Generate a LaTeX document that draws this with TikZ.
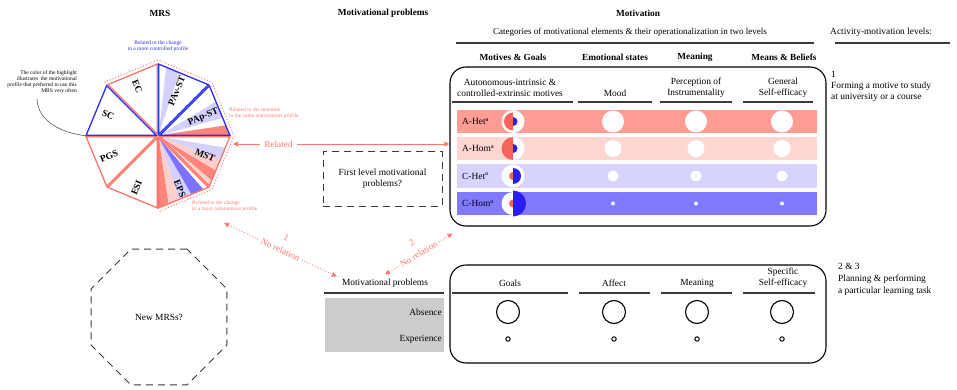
\documentclass[tikz,border=0pt]{standalone}
\usepackage{fontspec}
\setmainfont{Liberation Serif}
\usetikzlibrary{arrows.meta,calc,shapes.geometric}

\definecolor{linkred}{HTML}{FF7B70}
\definecolor{mrsblue}{HTML}{2E2EF0}
\definecolor{mrsred}{HTML}{FF7468}
\definecolor{hlred}{HTML}{FF857A}
\definecolor{hlpink}{HTML}{FFD0CB}
\definecolor{hllav}{HTML}{D4D0FF}
\definecolor{hlblue}{HTML}{7B73FF}
\definecolor{rowAhet}{HTML}{FF9C94}
\definecolor{rowAhom}{HTML}{FFD6D2}
\definecolor{rowChet}{HTML}{D6D3FF}
\definecolor{rowChom}{HTML}{817AFF}
\definecolor{glyphred}{HTML}{F8645A}
\definecolor{glyphblue}{HTML}{2A1EF0}
\definecolor{rulegray}{HTML}{3A3A3A}
\definecolor{boxgray}{HTML}{CCCCCC}

% a coloured fan inside one MRS sector: lower angle, start and end fraction of the rim, colour
\newcommand{\mrsfan}[4]{%
  \fill[#4] (0,0) -- ($({#1}:70)!#2!({#1+45}:70)$) -- ($({#1}:70)!#3!({#1+45}:70)$) -- cycle;}
% outline of one MRS sector: lower angle, colour
\newcommand{\mrsrim}[2]{%
  \draw[#2, line width=1.3pt, line join=miter] (0,0) -- ({#1}:70) -- ({#1+45}:70) -- cycle;}
% profile glyph: centre, white disc radius, red half radius, blue half radius
\newcommand{\profileglyph}[4]{%
  \fill[white] (#1) circle[radius=#2];
  \fill[glyphred] (#1) ++(0,-#3) arc[start angle=270, end angle=90, radius=#3] -- cycle;
  \fill[glyphblue] (#1) ++(0,-#4) arc[start angle=-90, end angle=90, radius=#4] -- cycle;}

\begin{document}
\begin{tikzpicture}[x=1pt, y=-1pt,
  every node/.style={inner sep=0pt},
  hd/.style={font=\bfseries\fontsize{9.3}{11}\selectfont},
  tx/.style={font=\fontsize{9.4}{11}\selectfont, align=center},
  small/.style={font=\fontsize{5.5}{6}\selectfont},
  mrslbl/.style={font=\bfseries\fontsize{9.5}{11}\selectfont},
  hrule/.style={draw=rulegray, line width=1.1pt},
  panel/.style={draw=black, line width=1.1pt, rounded corners=16pt, minimum width=376pt},
  band/.style={anchor=west, minimum width=360pt, minimum height=23pt},
  rowlbl/.style={font=\fontsize{9.4}{11}\selectfont, anchor=west},
  link/.style={draw=linkred, line width=0.9pt, >={Triangle[length=5pt,width=5pt]}, <->},
  nolink/.style={link, dotted},
  linklbl/.style={font=\fontsize{9.3}{11}\selectfont, text=linkred},
  dashbox/.style={draw=rulegray, line width=1pt, dash pattern=on 7pt off 5pt},
]
\useasboundingbox (0,0) rectangle (957,390);

% ---------- column titles ----------
\node[hd] (ttlMRS) at (160,13) {MRS};
\node[hd] (ttlProb) at (383,13) {Motivational problems};
\node[hd] (ttlMot) at (638,13) {Motivation};
\node[tx, font=\fontsize{9}{11}\selectfont] (ttlCat) at (630,32) {Categories of motivational elements \& their operationalization in two levels};
\draw[hrule] (456,43) -- (814,43);
\node[tx] (ttlLvl) at (881,32) {Activity-motivation levels:};
\draw[hrule] (835,43) -- (950,43);

\node[hd] (hdMG) at (513,57) {Motives \& Goals};
\node[hd] (hdES) at (615,57) {Emotional states};
\node[hd] (hdMe) at (695,57) {Meaning};
\node[hd] (hdMB) at (784,57) {Means \& Beliefs};

% ---------- first level panel ----------
\node[panel, minimum height=159pt] (panelA) at (638,146.5) {};
\node[tx] (subA1) at (510,87.5) {Autonomous-intrinsic \&\\controlled-extrinsic motives};
\node[tx] (subA2) at (615,93) {Mood};
\node[tx] (subA3) at (696,87.5) {Perception of\\Instrumentality};
\node[tx] (subA4) at (783,87.5) {General\\Self-efficacy};
\draw[hrule] (452,102) -- (573,102);
\draw[hrule] (578,102) -- (652,102);
\draw[hrule] (660,102) -- (732,102);
\draw[hrule] (743,102) -- (813,102);

\node[band, fill=rowAhet] (rowAhet) at (457,121.5) {};
\node[band, fill=rowAhom] (rowAhom) at (457,148.5) {};
\node[band, fill=rowChet] (rowChet) at (457,176) {};
\node[band, fill=rowChom] (rowChom) at (457,203.5) {};
\node[rowlbl] (lblAhet) at (462,121.5) {A-Het\textsuperscript{a}};
\node[rowlbl] (lblAhom) at (462,148.5) {A-Hom\textsuperscript{a}};
\node[rowlbl] (lblChet) at (462,176) {C-Het\textsuperscript{a}};
\node[rowlbl] (lblChom) at (462,203.5) {C-Hom\textsuperscript{a}};

\profileglyph{513,121.5}{11.5}{9}{4.5}
\profileglyph{513,148.5}{11.5}{11.5}{4.5}
\profileglyph{513,176}{11.5}{4}{8}
\profileglyph{513,203.5}{11.5}{4}{13}

\foreach \cx in {613,696,782} {
  \fill[white] (\cx,121.5) circle[radius=11];
  \fill[white] (\cx,148.5) circle[radius=8.5];
  \fill[white] (\cx,176) circle[radius=5.5];
  \fill[white] (\cx,203.5) circle[radius=2];
}

% ---------- second and third level panel ----------
\node[tx] (mpLow) at (385,283) {Motivational problems};
\draw[hrule] (324,293) -- (444,293);
\node[fill=boxgray, minimum width=119pt, minimum height=54pt] (absBox) at (384.5,325) {};
\node[tx, anchor=east] (absTxt) at (442,312) {Absence};
\node[tx, anchor=east] (expTxt) at (442,339) {Experience};

\node[panel, minimum height=98pt] (panelB) at (638,314) {};
\node[tx] (subB1) at (510,283) {Goals};
\node[tx] (subB2) at (614,283) {Affect};
\node[tx] (subB3) at (697,283) {Meaning};
\node[tx] (subB4) at (783,278) {Specific\\Self-efficacy};
\draw[hrule] (452,293) -- (568,293);
\draw[hrule] (579,293) -- (650,293);
\draw[hrule] (661,293) -- (732,293);
\draw[hrule] (743,293) -- (815,293);
\foreach \cx in {508,614,697,782} {
  \draw[black, line width=1.1pt] (\cx,312) circle[radius=11.5];
  \draw[black, line width=1pt] (\cx,339) circle[radius=2.2];
}

% ---------- activity-motivation levels ----------
\node[tx, align=left, anchor=west] (lvlOne) at (831,86) {1\\Forming a motive to study\\at university or a course};
\node[tx, align=left, anchor=west, font=\fontsize{9.4}{12}\selectfont] (lvlTwo) at (838,279) {2 \& 3\\Planning \& performing\\a particular learning task};

% ---------- wheel of MRSs ----------
\begin{scope}[shift={(158,136)}, yscale=-1]
  \begin{scope}[shift={(22.5:2)}]
    \mrsfan{0}{0}{0.2}{hlred}
    \mrsfan{0}{0.35}{0.68}{hllav}
    \mrsrim{0}{mrsblue}
    \node[mrslbl, rotate=22.5] (mrsPApST) at (22.5:47) {PAp-ST};
  \end{scope}
  \begin{scope}[shift={(67.5:2)}]
    \mrsfan{45}{0.58}{0.85}{hllav}
    \mrsrim{45}{mrsblue}
    \node[mrslbl, rotate=67.5] (mrsPAvST) at (67.5:47) {PAv-ST};
  \end{scope}
  \begin{scope}[shift={(112.5:2)}]
    \mrsrim{90}{mrsred}
    \node[mrslbl, rotate=-67.5] (mrsEC) at (112.5:52) {EC};
  \end{scope}
  \begin{scope}[shift={(157.5:2)}]
    \mrsrim{135}{mrsblue}
    \node[mrslbl, rotate=-22.5] (mrsSC) at (157.5:52) {SC};
  \end{scope}
  \begin{scope}[shift={(202.5:2)}]
    \mrsrim{180}{mrsred}
    \node[mrslbl, rotate=22.5] (mrsPGS) at (202.5:51) {PGS};
  \end{scope}
  \begin{scope}[shift={(247.5:2)}]
    \mrsrim{225}{mrsred}
    \node[mrslbl, rotate=67.5] (mrsESI) at (247.5:54) {ESI};
  \end{scope}
  \begin{scope}[shift={(292.5:2)}]
    \mrsfan{270}{0}{0.2}{hlred}
    \mrsfan{270}{0.2}{0.42}{hlpink}
    \mrsfan{270}{0.42}{0.66}{hllav}
    \mrsfan{270}{0.66}{0.9}{hlblue}
    \mrsrim{270}{mrsred}
    \node[mrslbl, rotate=-67.5] (mrsEPS) at (292.5:55) {EPS};
  \end{scope}
  \begin{scope}[shift={(337.5:2)}]
    \mrsfan{315}{0}{0.12}{hlpink}
    \mrsfan{315}{0.12}{0.32}{hlred}
    \mrsfan{315}{0.32}{0.55}{hlpink}
    \mrsfan{315}{0.55}{0.78}{hllav}
    \mrsrim{315}{mrsred}
    \node[mrslbl, rotate=-22.5] (mrsMST) at (337.5:49) {MST};
  \end{scope}
  \draw[linkred, dotted, line width=1pt] (135:76) -- (90:76) -- (45:76) -- (0:76) -- (-45:76) -- (-90:76);
\end{scope}

\node[small, text=mrsblue, align=center] (noteCtrl) at (158,46) {Related to the change\\to a more controlled profile};
\node[small, text=linkred, align=left, anchor=west] (noteRet) at (229,113) {Related to the retention\\in the same autonomous profile};
\node[small, text=linkred, align=left, anchor=west] (noteAut) at (192,206) {Related to the change\\to a more autonomous profile};
\node[small, align=right, anchor=east, font=\fontsize{5.5}{5.8}\selectfont] (noteHl) at (77,82) {The color of the highlight\\illustrates\ \ the motivational\\profile that preferred to use this\\MRS very often};

\coordinate (noteTail) at (37,99);
\coordinate (wheelW) at (87,136);
\draw[black!65, line width=0.6pt] (noteTail) .. controls (38,122) and (62,133) .. (wheelW);

% ---------- open questions ----------
\node[dashbox, minimum width=119pt, minimum height=54pt, tx] (firstLvl) at (382.5,179) {First level motivational\\problems?};
\node[dashbox, regular polygon, regular polygon sides=8, minimum size=147pt, tx] (newMRS) at (159,317) {New MRSs?};

% ---------- relations ----------
\coordinate (wheelE) at (233,144);
\draw[link] (wheelE) -- (wheelE -| panelA.west)
  node[pos=0.21, linklbl, fill=white, inner xsep=4pt, inner ysep=2pt] (relLbl) {Related};

\coordinate (nrStart) at (224,223);
\draw[nolink] (nrStart) -- ($(mpLow.north west)+(-5,-2)$)
  node[midway, sloped, linklbl, fill=white, inner sep=1.5pt] (nrOneLbl) {No relation}
  node[midway, sloped, above=10pt, linklbl] (nrOneNum) {1};
\draw[nolink] ($(mpLow.north)+(0,-4)$) -- ($(panelA.south west)+(3,7)$)
  node[midway, sloped, linklbl, fill=white, inner sep=1.5pt] (nrTwoLbl) {No relation}
  node[midway, sloped, above=10pt, linklbl] (nrTwoNum) {2};
\end{tikzpicture}
\end{document}
